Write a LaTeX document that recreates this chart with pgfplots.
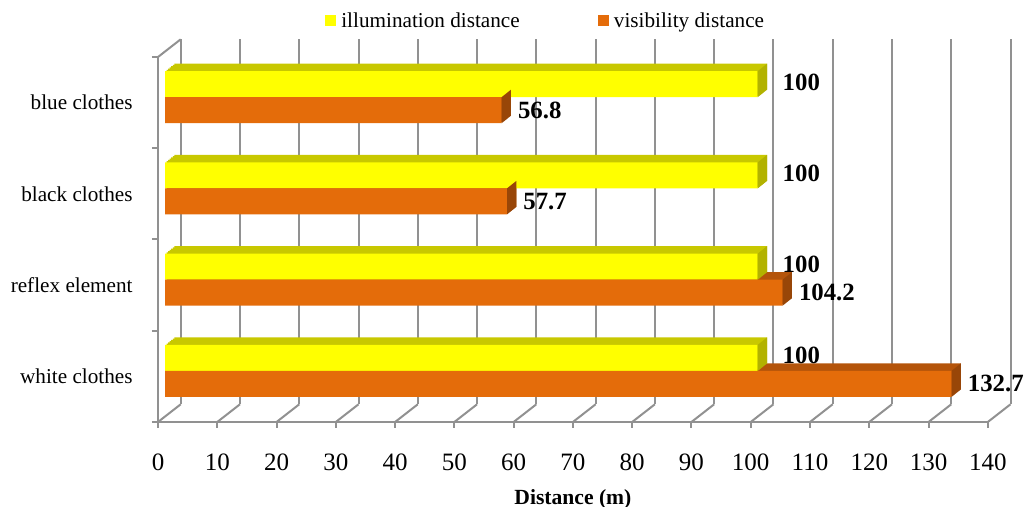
\documentclass[border=0pt]{standalone}
\usepackage{fontspec}
\setmainfont{Liberation Serif}
\usepackage{pgfplots}
\usepackage{pgfplotstable}
\pgfplotsset{compat=1.18}

\definecolor{illumFront}{RGB}{255,255,0}
\definecolor{illumTop}{RGB}{200,200,0}
\definecolor{illumSide}{RGB}{178,178,0}
\definecolor{visFront}{RGB}{228,108,10}
\definecolor{visTop}{RGB}{180,84,10}
\definecolor{visSide}{RGB}{152,70,8}
\definecolor{gridgray}{RGB}{145,145,145}

% right-hand end face of a 3d bar
\pgfdeclareplotmark{barside}{%
  \pgfpathmoveto{\pgfqpoint{0pt}{-6.5pt}}%
  \pgfpathlineto{\pgfqpoint{0pt}{6.5pt}}%
  \pgfpathlineto{\pgfqpoint{4.65pt}{10.2pt}}%
  \pgfpathlineto{\pgfqpoint{4.65pt}{-2.8pt}}%
  \pgfpathclose
  \pgfusepathqfill}

\pgfplotstableread{
pos illum vis
0.5 100 132.7
1.5 100 104.2
2.5 100 57.7
3.5 100 56.8
}\distances

\begin{document}
\begin{tikzpicture}
\path[use as bounding box] (0,0) rectangle (513.5pt,253.5pt);

% back wall grid
\begin{axis}[
  at={(90.35pt,51.35pt)}, anchor=south west,
  scale only axis, width=414.9pt, height=182.5pt,
  xmin=0, xmax=140, ymin=0, ymax=4,
  axis line style={draw=none},
  xtick={0,10,...,140}, xticklabels={}, ytick=\empty,
  major tick length=0pt,
  xmajorgrids, grid style={gridgray, line width=1pt},
]
\end{axis}

\begin{axis}[
  at={(79pt,42.5pt)}, anchor=south west,
  scale only axis, width=414.9pt, height=182.5pt,
  xmin=0, xmax=140, ymin=0, ymax=4,
  clip=false,
  axis lines*=left,
  axis line style={gridgray, line width=1pt},
  tick align=outside,
  tick style={gridgray, line width=1pt},
  major tick length=3pt, minor tick length=3pt,
  xtick={0,10,...,140},
  ytick={0.5,1.5,2.5,3.5},
  yticklabels={white clothes, reflex element, black clothes, blue clothes},
  minor ytick={0,1,2,3,4},
  every major y tick/.append style={draw=none},
  /pgf/number format/assume math mode=true,
  xticklabel style={font=\fontsize{12.5}{15}\selectfont, anchor=center, yshift=-17.35pt},
  yticklabel style={font=\fontsize{10.6}{13}\selectfont, anchor=east, inner sep=0pt, xshift=-9.5pt},
  xlabel={Distance (m)},
  xlabel style={font=\fontsize{10.8}{13}\selectfont\bfseries, at={(axis description cs:0.5,0)}, anchor=center, yshift=-38.65pt},
  legend columns=2,
  legend cell align=left,
  legend style={at={(axis description cs:0.2013,1.0973)}, anchor=west, draw=none, fill=none,
    inner sep=0pt, font=\fontsize{10.6}{12}\selectfont,
    nodes={inner xsep=2.65pt, inner ysep=0pt},
    /tikz/every even column/.append style={column sep=36.5pt}},
]
% floor and left wall edges
\pgfplotsinvokeforeach{0,10,...,140}{\draw[gridgray, line width=1pt] (axis cs:#1,0) -- ++(11.35pt,8.85pt);}
\draw[gridgray, line width=1pt] (axis cs:0,4) -- ++(11.35pt,8.85pt);

% depth of visibility bars
\pgfplotsinvokeforeach{1,...,6}{
\addplot[xbar, bar width=13pt, bar shift=-6.5pt, fill=visTop, draw=none, forget plot,
  xshift={3.5pt+0.775pt*#1}, yshift={2.75pt+0.617pt*#1}] table[x=vis, y=pos] {\distances};
}
\addplot[only marks, mark=barside, mark options={fill=visSide, draw=none}, forget plot,
  xshift=3.5pt, yshift=-3.75pt] table[x=vis, y=pos] {\distances};

% depth of illumination bars
\pgfplotsinvokeforeach{1,...,6}{
\addplot[xbar, bar width=13pt, bar shift=6.5pt, fill=illumTop, draw=none, forget plot,
  xshift={3.5pt+0.775pt*#1}, yshift={2.75pt+0.617pt*#1}] table[x=illum, y=pos] {\distances};
}
\addplot[only marks, mark=barside, mark options={fill=illumSide, draw=none}, forget plot,
  xshift=3.5pt, yshift=9.25pt] table[x=illum, y=pos] {\distances};

% front faces
\addplot[xbar, bar width=13pt, bar shift=6.5pt, fill=illumFront, draw=none,
  xshift=3.5pt, yshift=2.75pt,
  nodes near coords, point meta=x,
  every node near coord/.append style={anchor=west, inner sep=0pt, xshift=12.3pt, yshift=7.5pt,
    font=\fontsize{12.4}{14}\selectfont\bfseries, text=black},
  legend image code/.code={\fill[illumFront] (0pt,-5pt) rectangle (5.3pt,0.3pt);}]
  table[x=illum, y=pos] {\distances};
\addlegendentry{illumination distance}
\addplot[xbar, bar width=13pt, bar shift=-6.5pt, fill=visFront, draw=none,
  xshift=3.5pt, yshift=2.75pt,
  nodes near coords, point meta=x,
  every node near coord/.append style={anchor=west, inner sep=0pt, xshift=8pt, yshift=-6.5pt,
    font=\fontsize{12.4}{14}\selectfont\bfseries, text=black},
  legend image code/.code={\fill[visFront] (0pt,-5pt) rectangle (5.3pt,0.3pt);}]
  table[x=vis, y=pos] {\distances};
\addlegendentry{visibility distance}
\end{axis}
\end{tikzpicture}
\end{document}
